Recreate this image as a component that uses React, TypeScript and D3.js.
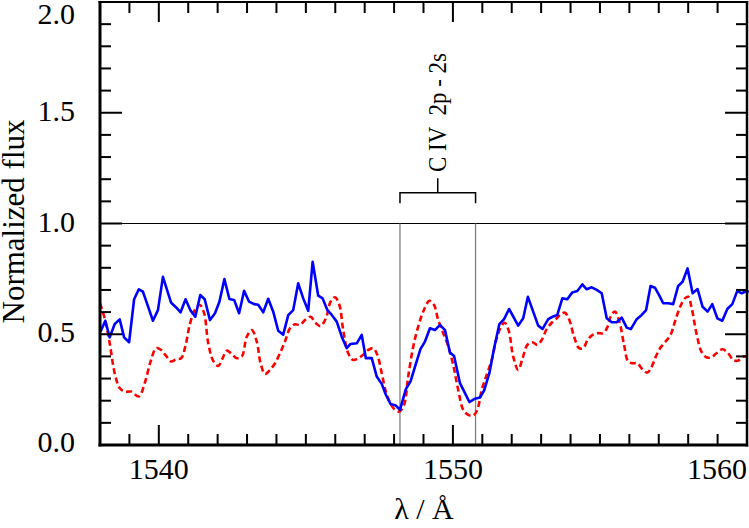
import React from "react";
import * as d3 from "d3";

const blueWave = [1538.02,1538.18,1538.33,1538.50,1538.67,1538.82,1538.99,1539.16,1539.32,1539.46,1539.63,1539.80,1539.97,1540.14,1540.29,1540.42,1540.59,1540.74,1540.91,1541.07,1541.24,1541.41,1541.56,1541.74,1541.91,1542.06,1542.23,1542.40,1542.56,1542.73,1542.90,1543.07,1543.24,1543.38,1543.55,1543.72,1543.89,1544.06,1544.23,1544.40,1544.57,1544.74,1544.91,1545.08,1545.23,1545.42,1545.57,1545.73,1545.88,1546.05,1546.22,1546.39,1546.52,1546.73,1546.90,1547.04,1547.24,1547.41,1547.58,1547.72,1547.88,1548.06,1548.20,1548.40,1548.56,1548.73,1548.90,1549.05,1549.22,1549.39,1549.56,1549.73,1549.90,1550.04,1550.24,1550.41,1550.56,1550.75,1550.92,1551.06,1551.24,1551.40,1551.58,1551.74,1551.91,1552.22,1552.39,1552.55,1552.73,1552.90,1553.05,1553.24,1553.39,1553.55,1553.72,1553.89,1554.06,1554.23,1554.40,1554.55,1554.72,1554.89,1555.06,1555.23,1555.40,1555.57,1555.74,1555.91,1556.05,1556.25,1556.42,1556.57,1556.72,1556.87,1557.02,1557.15,1557.32,1557.49,1557.66,1557.81,1557.98,1558.15,1558.32,1558.49,1558.66,1558.82,1558.99,1559.16,1559.33,1559.50,1559.67,1559.82,1559.99,1560.06];
const blueFlux = [0.512,0.561,0.486,0.546,0.567,0.486,0.464,0.658,0.703,0.692,0.627,0.561,0.609,0.759,0.696,0.642,0.621,0.599,0.658,0.609,0.579,0.677,0.658,0.564,0.595,0.647,0.749,0.659,0.655,0.595,0.696,0.647,0.636,0.633,0.599,0.660,0.602,0.516,0.498,0.586,0.609,0.730,0.662,0.606,0.827,0.674,0.662,0.609,0.587,0.557,0.489,0.437,0.456,0.459,0.497,0.392,0.392,0.309,0.276,0.227,0.185,0.178,0.159,0.252,0.287,0.362,0.434,0.467,0.527,0.519,0.542,0.519,0.417,0.402,0.279,0.234,0.194,0.209,0.214,0.246,0.324,0.437,0.546,0.568,0.614,0.539,0.572,0.669,0.602,0.539,0.524,0.568,0.579,0.587,0.662,0.658,0.689,0.695,0.725,0.703,0.712,0.700,0.685,0.572,0.554,0.554,0.575,0.530,0.523,0.568,0.587,0.609,0.718,0.710,0.674,0.640,0.640,0.636,0.718,0.737,0.797,0.685,0.704,0.624,0.602,0.636,0.572,0.561,0.614,0.636,0.696,0.685,0.695,0.690];

const redWave = [1538.00,1538.16,1538.33,1538.50,1538.67,1538.84,1539.06,1539.32,1539.52,1539.72,1539.91,1540.08,1540.25,1540.42,1540.59,1540.76,1540.90,1541.05,1541.22,1541.39,1541.54,1541.68,1541.85,1542.02,1542.17,1542.31,1542.48,1542.65,1542.82,1542.99,1543.16,1543.33,1543.46,1543.61,1543.78,1543.95,1544.12,1544.29,1544.46,1544.63,1544.80,1544.97,1545.16,1545.34,1545.50,1545.68,1545.84,1545.99,1546.14,1546.27,1546.44,1546.61,1546.78,1546.95,1547.12,1547.29,1547.43,1547.58,1547.72,1547.88,1548.03,1548.18,1548.34,1548.48,1548.65,1548.82,1548.99,1549.20,1549.36,1549.50,1549.67,1549.84,1550.01,1550.18,1550.35,1550.52,1550.69,1550.83,1550.98,1551.15,1551.32,1551.49,1551.66,1551.76,1551.90,1552.05,1552.22,1552.37,1552.53,1552.70,1552.87,1553.02,1553.19,1553.36,1553.53,1553.67,1553.81,1553.96,1554.12,1554.29,1554.43,1554.58,1554.75,1554.92,1555.11,1555.26,1555.37,1555.51,1555.66,1555.82,1555.96,1556.11,1556.27,1556.44,1556.61,1556.76,1556.90,1557.06,1557.23,1557.40,1557.55,1557.72,1557.89,1558.00,1558.11,1558.28,1558.45,1558.62,1558.79,1558.96,1559.17,1559.36,1559.53,1559.70,1559.87,1560.04];
const redFlux = [0.640,0.572,0.459,0.324,0.257,0.241,0.241,0.219,0.279,0.377,0.437,0.429,0.402,0.377,0.387,0.392,0.444,0.542,0.609,0.632,0.595,0.460,0.380,0.357,0.392,0.426,0.411,0.392,0.399,0.489,0.519,0.467,0.369,0.321,0.339,0.369,0.414,0.467,0.527,0.545,0.542,0.564,0.579,0.550,0.537,0.572,0.647,0.667,0.632,0.519,0.414,0.384,0.392,0.407,0.429,0.437,0.407,0.324,0.241,0.186,0.159,0.151,0.182,0.309,0.444,0.534,0.602,0.651,0.632,0.564,0.505,0.447,0.362,0.249,0.159,0.136,0.133,0.159,0.249,0.317,0.384,0.482,0.540,0.552,0.515,0.399,0.339,0.392,0.452,0.464,0.452,0.474,0.524,0.552,0.572,0.591,0.597,0.564,0.489,0.437,0.437,0.474,0.497,0.505,0.505,0.534,0.582,0.602,0.557,0.452,0.377,0.369,0.369,0.342,0.327,0.354,0.399,0.440,0.467,0.497,0.557,0.622,0.662,0.669,0.624,0.505,0.422,0.396,0.396,0.414,0.432,0.414,0.384,0.381,0.399,0.399];

const xTickLabels = ["1540", "1550", "1560"];
const yTickLabels = ["0.0", "0.5", "1.0", "1.5", "2.0"];
const lineComponents = [1548.2, 1550.77];
const lineLabel = "C IV  2p - 2s";
const xTitle = "λ / Å";
const yTitle = "Normalized flux";

const W = 749, H = 528;
const L = 100, R = 747, T = 2, B = 445;
const FONT = "'Liberation Serif', 'Times New Roman', serif";

export default function App() {
  const x = d3.scaleLinear().domain([1538, 1560]).range([L, R]);
  const y = d3.scaleLinear().domain([0, 2]).range([B, T]);

  const blue = blueWave.map((w, i) => [w, blueFlux[i]] as [number, number]);
  const red = redWave.map((w, i) => [w, redFlux[i]] as [number, number]);
  const lineLin = d3.line<[number, number]>().x(d => x(d[0])).y(d => y(d[1]));
  const lineSmooth = d3.line<[number, number]>().x(d => x(d[0])).y(d => y(d[1])).curve(d3.curveCatmullRom.alpha(0.5));

  const xMinor = d3.range(1538, 1560.5, 1);
  const yMinor = d3.range(0, 21).map(i => i / 10);

  const xa = x(lineComponents[0]);
  const xb = x(lineComponents[1]);
  const xm = (xa + xb) / 2;

  return (
    <svg width={W} height={H} style={{ position: "fixed", left: 0, top: 0, background: "#fff" }} fontFamily={FONT}>
      <defs>
        <clipPath id="plotclip"><rect x={L} y={T} width={W - L} height={B - T} /></clipPath>
      </defs>
      <rect x={0} y={0} width={W} height={H} fill="#fff" />
      <line x1={L} x2={R} y1={y(1)} y2={y(1)} stroke="#000" strokeWidth={1.2} />
      {lineComponents.map((w, i) => (
        <line key={i} x1={x(w)} x2={x(w)} y1={y(1)} y2={y(0)} stroke="#808080" strokeWidth={1.3} />
      ))}
      <path d={`M${xa},${203.3} V${192.7} H${xb} V${203.3} M${xm},${192.7} V${178.3}`} fill="none" stroke="#000" strokeWidth={1.5} />
      <text transform={`translate(${xm + 8.5},172) rotate(-90)`} fontSize={26} textLength={119} lengthAdjust="spacingAndGlyphs" style={{ whiteSpace: "pre" }}>{lineLabel}</text>

      <g clipPath="url(#plotclip)">
        <path d={lineSmooth(red) || ""} fill="none" stroke="#ff0000" strokeWidth={2.6} strokeDasharray="6,3.5" />
        <path d={lineLin(blue) || ""} fill="none" stroke="#0000ff" strokeWidth={2.6} strokeLinejoin="round" />
      </g>

      {xMinor.map((w, i) => {
        const major = Math.abs(w % 10) < 1e-6;
        const len = major ? 20 : 11;
        return (
          <g key={"xt" + i}>
            <line x1={x(w)} x2={x(w)} y1={B} y2={B - len} stroke="#000" strokeWidth={2} />
            <line x1={x(w)} x2={x(w)} y1={T} y2={T + len} stroke="#000" strokeWidth={2} />
          </g>
        );
      })}
      {yMinor.map((v, i) => {
        const major = i % 5 === 0;
        const len = major ? 22 : 11;
        return (
          <g key={"yt" + i}>
            <line x1={L} x2={L + len} y1={y(v)} y2={y(v)} stroke="#000" strokeWidth={2} />
            <line x1={R} x2={R - len} y1={y(v)} y2={y(v)} stroke="#000" strokeWidth={2} />
          </g>
        );
      })}

      <line x1={L} x2={L} y1={T - 1} y2={B + 1.5} stroke="#000" strokeWidth={3} />
      <line x1={L - 1.5} x2={R + 1.2} y1={B} y2={B} stroke="#000" strokeWidth={3} />
      <line x1={R} x2={R} y1={T - 1} y2={B + 1.5} stroke="#000" strokeWidth={2.5} />
      <line x1={L - 1.5} x2={R + 1.2} y1={T} y2={T} stroke="#000" strokeWidth={2.2} />

      {xTickLabels.map((t, i) => {
        const v = +t;
        const last = i === xTickLabels.length - 1;
        return (
          <text key={"xl" + i} x={x(v)} y={479} fontSize={30} textAnchor={last ? "end" : "middle"}>{t}</text>
        );
      })}
      {yTickLabels.map((t, i) => {
        const v = +t;
        let c = y(v) - 2;
        if (c < 14) c = 14;
        if (c > 442) c = 442;
        return (
          <text key={"yl" + i} x={75} y={c + 10} fontSize={30} textAnchor="end">{t}</text>
        );
      })}

      <text x={424} y={519} fontSize={30} textAnchor="middle">{xTitle}</text>
      <text transform="translate(24,221.5) rotate(-90)" fontSize={31} textAnchor="middle">{yTitle}</text>
    </svg>
  );
}
